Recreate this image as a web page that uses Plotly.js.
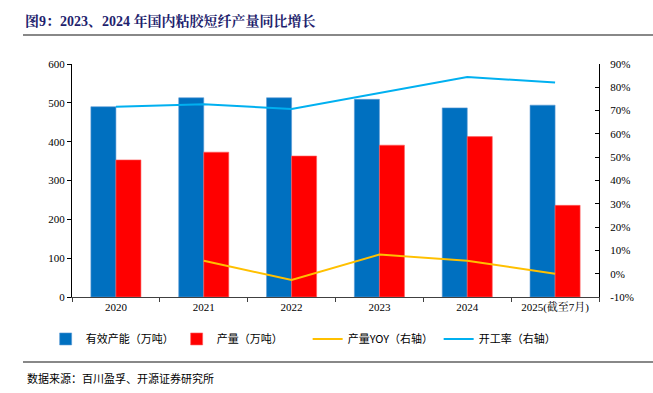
<!DOCTYPE html>
<html>
<head>
<meta charset="utf-8">
<script src="https://cdn.plot.ly/plotly-3.0.1.min.js"></script>
<style>html,body{margin:0;padding:0;background:#fff;}#chart{width:653px;height:393px;}</style>
</head>
<body>
<div id="chart"></div>
<script>
const categories = ['2020', '2021', '2022', '2023', '2024', '2025(截至7月)'];
const capacity = [490, 513, 513, 509, 487, 494];
const output = [353, 373, 363, 391, 413, 236];
const outputYoY = [null, 5.6, -2.7, 8.2, 5.6, 0.0];
const utilization = [71.7, 72.7, 70.7, 77.4, 84.4, 82.1];
const leftTicks = [0, 100, 200, 300, 400, 500, 600];
const rightTicks = [-10, 0, 10, 20, 30, 40, 50, 60, 70, 80, 90];
const rightTickLabels = ['-10%', '0%', '10%', '20%', '30%', '40%', '50%', '60%', '70%', '80%', '90%'];

const serif = '"Times New Roman", "Liberation Serif", "Noto Serif CJK SC", "Noto Sans CJK SC", serif';
const cjk = '"Noto Sans CJK SC", sans-serif';

const traces = [
  {type: 'bar', name: '有效产能（万吨）', x: categories, y: capacity,
   marker: {color: '#0070C0', line: {color: '#5B9BD5', width: 0.6}}},
  {type: 'bar', name: '产量（万吨）', x: categories, y: output,
   marker: {color: '#FF0000', line: {color: '#FF6060', width: 0.6}}},
  {type: 'scatter', mode: 'lines', name: '产量YOY（右轴）', x: categories, y: outputYoY,
   yaxis: 'y2', line: {color: '#FFC000', width: 2}},
  {type: 'scatter', mode: 'lines', name: '开工率（右轴）', x: categories, y: utilization,
   yaxis: 'y2', line: {color: '#00B0F0', width: 2}}
];

const layout = {
  width: 653, height: 393,
  margin: {l: 72, r: 54, t: 64, b: 96},
  paper_bgcolor: '#fff', plot_bgcolor: '#fff',
  showlegend: true,
  barmode: 'group', bargap: 0.43, bargroupgap: 0,
  title: {
    text: '<b>图9：2023、2024 年国内粘胶短纤产量同比增长</b>',
    font: {family: serif, size: 14, color: '#1F1F6E'},
    x: 25/653, xanchor: 'left', xref: 'container',
    y: 1 - 21/393, yanchor: 'middle', yref: 'container'
  },
  xaxis: {
    type: 'category', showline: true, linecolor: '#404040', linewidth: 1,
    ticks: 'outside', tickson: 'boundaries', ticklen: 4, tickcolor: '#404040',
    showgrid: false, zeroline: false,
    tickfont: {family: serif, size: 11, color: '#000'}
  },
  yaxis: {
    range: [0, 600], tickvals: leftTicks, showline: true, linecolor: '#000', linewidth: 1,
    ticks: 'outside', ticklen: 4, tickcolor: '#000', showgrid: false, zeroline: false,
    tickfont: {family: serif, size: 11, color: '#000'}
  },
  yaxis2: {
    overlaying: 'y', side: 'right', range: [-10, 90], tickvals: rightTicks, ticktext: rightTickLabels,
    showline: true, linecolor: '#000', linewidth: 1, ticks: 'inside', ticklen: 4, tickcolor: '#000',
    showgrid: false, zeroline: false, ticklabelstandoff: 8,
    tickfont: {family: serif, size: 11, color: '#000'}
  },
  legend: {
    orientation: 'h', x: -0.05, xanchor: 'left', y: -0.18, yanchor: 'middle',
    font: {family: cjk, size: 11, color: '#000'}, itemwidth: 30, tracegroupgap: 0,
    traceorder: 'normal', entrywidth: 86, entrywidthmode: 'pixels'
  },
  shapes: [
    {type: 'line', xref: 'paper', yref: 'paper', x0: -49/527, x1: 581/527, y0: (297-35)/233, y1: (297-35)/233,
     line: {color: '#606060', width: 1.5}},
    {type: 'line', xref: 'paper', yref: 'paper', x0: -49/527, x1: 581/527, y0: (297-362)/233, y1: (297-362)/233,
     line: {color: '#606060', width: 1.5}}
  ],
  annotations: [
    {text: '数据来源：百川盈孚、开源证券研究所', xref: 'paper', yref: 'paper',
     x: -47/527, xanchor: 'left', y: (297-378)/233, yanchor: 'middle', showarrow: false,
     font: {family: cjk, size: 11, color: '#000'}}
  ]
};

Plotly.newPlot('chart', traces, layout, {displayModeBar: false, staticPlot: true});
</script>
</body>
</html>
